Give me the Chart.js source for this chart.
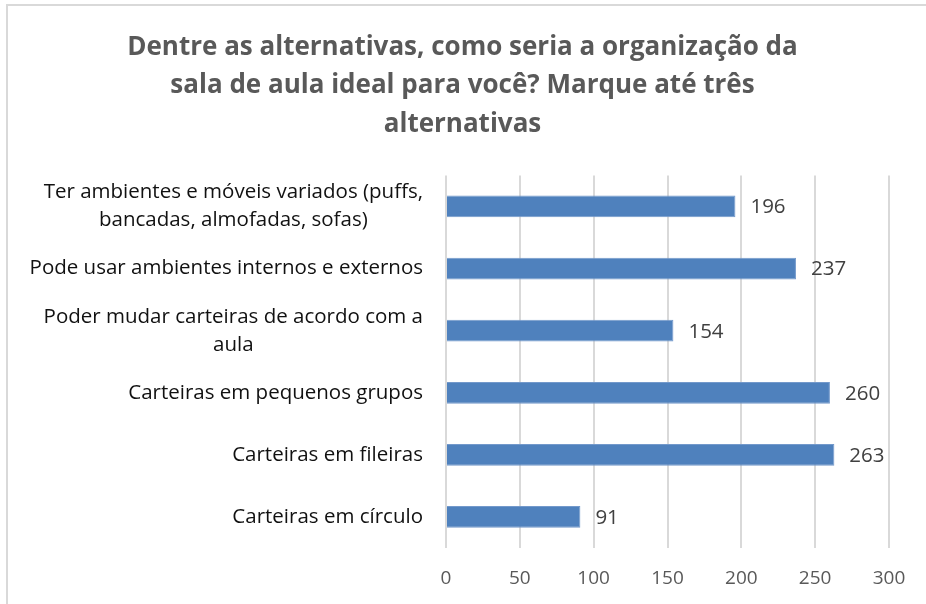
<!DOCTYPE html>
<html>
<head>
<meta charset="utf-8">
<script src="https://cdn.jsdelivr.net/npm/chart.js@4"></script>
<style>
  html, body { margin: 0; padding: 0; background: #fff; }
  #wrap { position: relative; width: 926px; height: 604px; overflow: hidden; }
  #frame { position: absolute; left: 6px; top: 4px; width: 940px; height: 640px;
           border-left: 2px solid #d9d9d9; border-top: 2px solid #d9d9d9; }
  canvas { position: absolute; left: 0; top: 0; }
</style>
</head>
<body>
<div id="wrap">
  <div id="frame"></div>
  <canvas id="chart" width="926" height="604"></canvas>
</div>
<script>
const categories = [
  ["Ter ambientes e móveis variados (puffs,", "bancadas, almofadas, sofas)"],
  ["Pode usar ambientes internos e externos"],
  ["Poder mudar carteiras de acordo com a", "aula"],
  ["Carteiras em pequenos grupos"],
  ["Carteiras em fileiras"],
  ["Carteiras em círculo"]
];
const values = [196, 237, 154, 260, 263, 91];
const titleLines = [
  "Dentre as alternativas, como seria a organização da",
  "sala de aula ideal para você? Marque até três",
  "alternativas"
];

const FONT = "'Open Sans', 'Liberation Sans', sans-serif";

// category labels: block right-aligned, lines centred inside the block
const catLabels = {
  id: "catLabels",
  afterDraw(chart) {
    const ctx = chart.ctx;
    const y = chart.scales.y;
    ctx.save();
    ctx.font = "20.5px " + FONT;
    ctx.fillStyle = "#111";
    ctx.textAlign = "center";
    ctx.textBaseline = "middle";
    const right = 423, lh = 28;
    categories.forEach((lines, i) => {
      const w = Math.max(...lines.map(l => ctx.measureText(l).width));
      const cx = right - w / 2;
      const cy = y.getPixelForValue(i);
      lines.forEach((l, k) => {
        ctx.fillText(l, cx, cy + (k - (lines.length - 1) / 2) * lh);
      });
    });
    ctx.restore();
  }
};

// value labels after bar ends
const valueLabels = {
  id: "valueLabels",
  afterDatasetsDraw(chart) {
    const ctx = chart.ctx;
    const meta = chart.getDatasetMeta(0);
    ctx.save();
    ctx.font = "20.5px " + FONT;
    ctx.fillStyle = "#404040";
    ctx.textAlign = "left";
    ctx.textBaseline = "middle";
    meta.data.forEach((bar, i) => {
      ctx.fillText(String(values[i]), bar.x + 15, bar.y + 1);
    });
    ctx.restore();
  }
};

new Chart(document.getElementById("chart"), {
  type: "bar",
  data: {
    labels: categories,
    datasets: [{
      data: values,
      backgroundColor: "#4f81bd",
      borderColor: "#7399cb",
      borderWidth: 1,
      barPercentage: 0.35,
      categoryPercentage: 1
    }]
  },
  options: {
    indexAxis: "y",
    responsive: false,
    animation: false,
    layout: { padding: { left: 36, right: 37, top: 28, bottom: 0 } },
    plugins: {
      legend: { display: false },
      tooltip: { enabled: false },
      title: {
        display: true,
        text: titleLines,
        color: "#595959",
        font: { family: FONT, size: 26, weight: "bold", lineHeight: 1.48 },
        padding: { top: 0, bottom: 32 }
      }
    },
    scales: {
      x: {
        min: 0,
        max: 300,
        ticks: { stepSize: 50, color: "#595959", font: { family: FONT, size: 19 }, padding: 19 },
        grid: { color: "#d9d9d9", lineWidth: 2, drawTicks: false },
        border: { display: false },
        afterFit(scale) { scale.height = 56; }
      },
      y: {
        ticks: { display: false },
        grid: { display: false },
        border: { display: false },
        afterFit(scale) { scale.width = 410; }
      }
    }
  },
  plugins: [catLabels, valueLabels]
});
</script>
</body>
</html>
